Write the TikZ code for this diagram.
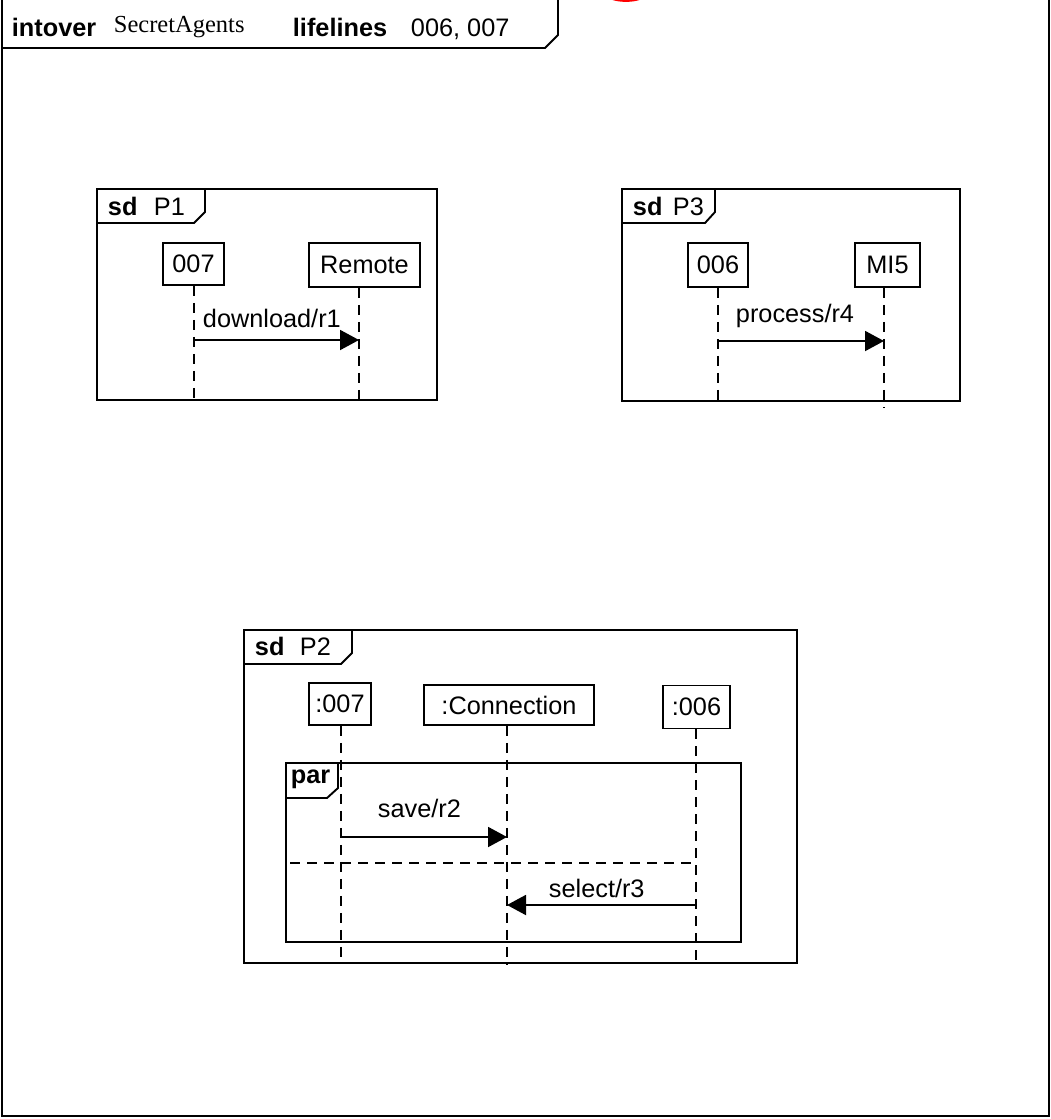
\documentclass[tikz,border=0pt]{standalone}
\usepackage{fontspec}
\setmainfont{Liberation Sans}
\newfontfamily\serifface{Liberation Serif}
\usetikzlibrary{arrows.meta}
\begin{document}
\begin{tikzpicture}[x=1pt,y=-1pt,
  line width=1.9pt,
  every node/.style={font=\fontsize{25.3}{30}\selectfont, inner sep=0pt},
  lbox/.style={draw, line width=1.9pt, anchor=center},
  lifeln/.style={dash pattern=on 10pt off 7pt, line width=1.9pt},
  msg/.style={-{Triangle[length=19pt,width=20pt]}, line width=1.9pt},
  txt/.style={anchor=base west},
  kw/.style={anchor=base west, font=\fontsize{25.3}{30}\selectfont\bfseries},
  frm/.style={line width=1.9pt},
]
\useasboundingbox (0,0) rectangle (1051,1119);

% outer frame and header tab
\draw[frm] (2,-5) -- (2,1116) -- (1049,1116) -- (1049,-5);
\draw[frm] (2,48) -- (545,48) -- (558,35) -- (558,-5);
\node[kw] (hk1) at (11,36) {intover};
\node[txt, font=\serifface\fontsize{24.5}{30}\selectfont] (hv1) at (113,32) {SecretAgents};
\node[kw] (hk2) at (292,36) {lifelines};
\node[txt] (hv2) at (410,36) {006, 007};

% red mark
\draw[red, line width=2.5pt] (611,-2) .. controls (618,1.5) and (634,1.5) .. (641,-2);

% ---------- P1 ----------
\draw[frm] (97,189) rectangle (437,400);
\draw[frm] (97,223) -- (194,223) -- (205,212) -- (205,189);
\node[kw] (p1sd) at (107,215) {sd};
\node[txt] (p1n) at (153,215) {P1};
\node[lbox, minimum width=61pt, minimum height=42pt] (p1a) at (193.5,264) {007};
\node[lbox, minimum width=111pt, minimum height=44pt] (p1b) at (364.5,265) {Remote};
\coordinate (p1aend) at (194,402);
\coordinate (p1bend) at (359,405);
\draw[lifeln] (p1a.south -| p1aend) -- (p1aend);
\draw[lifeln] (p1b.south -| p1bend) -- (p1bend);
\coordinate (m1s) at (194,340);
\coordinate (m1e) at (359,340);
\draw[msg] (m1s) -- (m1e);
\node[txt] (m1l) at (202,327) {download/r1};

% ---------- P3 ----------
\draw[frm] (622,189) rectangle (960,401);
\draw[frm] (622,223) -- (705,223) -- (715,212) -- (715,189);
\node[kw] (p3sd) at (632,215) {sd};
\node[txt] (p3n) at (672,215) {P3};
\node[lbox, minimum width=60pt, minimum height=44pt] (p3a) at (718,265) {006};
\node[lbox, minimum width=65pt, minimum height=44pt] (p3b) at (887.5,265) {MI5};
\coordinate (p3aend) at (718,404);
\coordinate (p3bend) at (884,407);
\draw[lifeln] (p3a.south -| p3aend) -- (p3aend);
\draw[lifeln] (p3b.south -| p3bend) -- (p3bend);
\coordinate (m4s) at (718,341);
\coordinate (m4e) at (884,341);
\draw[msg] (m4s) -- (m4e);
\node[txt] (m4l) at (735,322) {process/r4};

% ---------- P2 ----------
\draw[frm] (244,630) rectangle (797,963);
\draw[frm] (244,664) -- (341,664) -- (352,653) -- (352,630);
\node[kw] (p2sd) at (254,655) {sd};
\node[txt] (p2n) at (299,655) {P2};
\node[lbox, minimum width=62pt, minimum height=42pt] (p2a) at (340,704) {:007};
\node[lbox, minimum width=170pt, minimum height=40pt] (p2b) at (509,705) {:Connection};
\node[lbox, minimum width=67pt, minimum height=43pt] (p2c) at (696.5,707) {:006};
\coordinate (p2aend) at (341,963);
\coordinate (p2bend) at (507,965);
\coordinate (p2cend) at (696,964);
\draw[lifeln] (p2a.south -| p2aend) -- (p2aend);
\draw[lifeln] (p2b.south -| p2bend) -- (p2bend);
\draw[lifeln] (p2c.south -| p2cend) -- (p2cend);

% par fragment
\draw[frm] (286,763) rectangle (741,942);
\draw[frm] (286,798) -- (327,798) -- (338,788) -- (338,763);
\node[kw] (parl) at (290,783) {par};
\coordinate (sepl) at (290,863);
\draw[lifeln] (sepl) -- (p2cend |- sepl);

\coordinate (m2s) at (341,837);
\coordinate (m2e) at (507,837);
\draw[msg] (m2s) -- (m2e);
\node[txt] (m2l) at (377,817) {save/r2};

\coordinate (m3s) at (696,905);
\coordinate (m3e) at (507,905);
\draw[msg] (m3s) -- (m3e);
\node[txt] (m3l) at (548,897) {select/r3};
\end{tikzpicture}
\end{document}
